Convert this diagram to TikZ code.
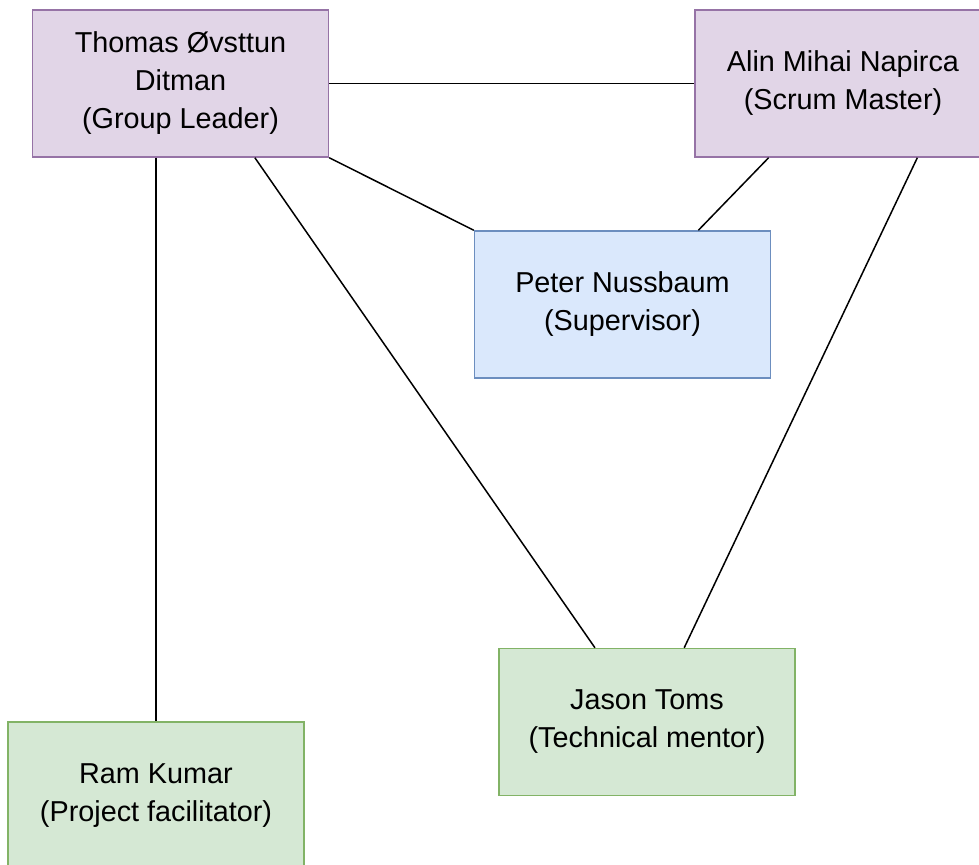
\documentclass[tikz,border=0pt]{standalone}
\usepackage{fontspec}
\setmainfont{Liberation Sans}
\usetikzlibrary{calc}

\definecolor{purplefill}{HTML}{E1D5E7}
\definecolor{purpleline}{HTML}{9673A6}
\definecolor{bluefill}{HTML}{DAE8FC}
\definecolor{blueline}{HTML}{6C8EBF}
\definecolor{greenfill}{HTML}{D5E8D4}
\definecolor{greenline}{HTML}{82B366}

\tikzset{
  person/.style={rectangle, minimum width=148pt, minimum height=73.5pt,
    inner sep=0pt, line width=0.7pt, align=center,
    font=\fontsize{14.4pt}{19pt}\selectfont},
  leader/.style={person, fill=purplefill, draw=purpleline},
  supervisor/.style={person, fill=bluefill, draw=blueline},
  mentor/.style={person, fill=greenfill, draw=greenline},
  link/.style={draw=black, line width=0.75pt}
}

\begin{document}
\begin{tikzpicture}[x=0.5pt, y=-0.5pt]
  \useasboundingbox (0,0) rectangle (979,865);
  \clip (0,0) rectangle (979,865);

  % people
  \node[leader] (thomas) at (180.5,83.5) {Thomas Øvsttun\\Ditman\\(Group Leader)};
  \node[leader] (alin) at (843,83.5) {Alin Mihai Napirca\\(Scrum Master)};
  \node[supervisor] (peter) at (622.5,304.5) {Peter Nussbaum\\(Supervisor)};
  \node[mentor] (jason) at (647,722) {Jason Toms\\(Technical mentor)};
  \node[mentor] (ram) at (156,795.5) {Ram Kumar\\(Project facilitator)};

  % connections
  \draw[link] (thomas.east) -- (alin.west);
  \draw[link] (ram.north |- thomas.south) -- (ram.north);
  \draw[link] (thomas.south east) -- (peter.north west);
  \draw[link] ($(alin.south west)!0.25!(alin.south east)$)
    -- ($(peter.north west)!0.755!(peter.north east)$);
  \draw[link] ($(thomas.south west)!0.75!(thomas.south east)$)
    -- ($(jason.north west)!0.325!(jason.north east)$);
  \draw[link] ($(alin.south west)!0.75!(alin.south east)$)
    -- ($(jason.north west)!0.625!(jason.north east)$);
\end{tikzpicture}
\end{document}
